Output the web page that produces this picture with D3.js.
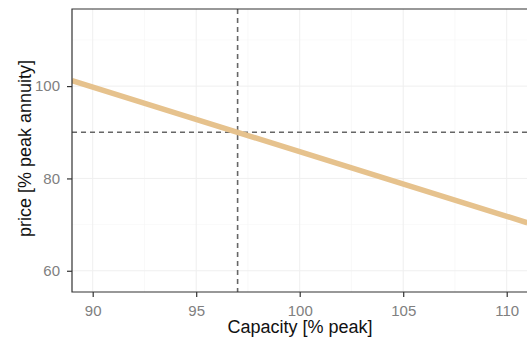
<!DOCTYPE html>
<html>
<head>
<meta charset="utf-8">
<script src="https://cdn.jsdelivr.net/npm/d3@7"></script>
<style>
  body { margin: 0; background: #fff; }
  svg { display: block; font-family: "Liberation Sans", Arial, sans-serif; }
</style>
</head>
<body>
<div id="chart"></div>
<script>
const capacity = [89, 97, 111];
const price = [101.2, 90, 70.4];
const refCapacity = 97;
const refPrice = 90;
const xTicks = [90, 95, 100, 105, 110];
const yTicks = [60, 80, 100];
const xMinor = [92.5, 97.5, 102.5, 107.5];
const yMinor = [70, 90, 110];

const width = 527;
const height = 342;
const margin = { top: 9, right: 0, bottom: 50, left: 72 };

const svg = d3.select("#chart")
    .append("svg")
    .attr("width", width)
    .attr("height", height);

const x = d3.scaleLinear()
    .domain([89.0, 110.98])
    .range([margin.left, width - margin.right]);

const y = d3.scaleLinear()
    .domain([55.4, 116.7])
    .range([height - margin.bottom, margin.top]);

svg.append("defs").append("clipPath")
    .attr("id", "panel")
    .append("rect")
    .attr("x", margin.left)
    .attr("y", margin.top)
    .attr("width", width - margin.left - margin.right)
    .attr("height", height - margin.top - margin.bottom);

// grid
const grid = svg.append("g");
grid.selectAll(".xminor").data(xMinor).join("line")
    .attr("x1", d => x(d)).attr("x2", d => x(d))
    .attr("y1", margin.top).attr("y2", height - margin.bottom)
    .attr("stroke", "#f5f5f5").attr("stroke-width", 0.6);
grid.selectAll(".yminor").data(yMinor).join("line")
    .attr("y1", d => y(d)).attr("y2", d => y(d))
    .attr("x1", margin.left).attr("x2", width)
    .attr("stroke", "#f5f5f5").attr("stroke-width", 0.6);
grid.selectAll(".xmajor").data(xTicks).join("line")
    .attr("x1", d => x(d)).attr("x2", d => x(d))
    .attr("y1", margin.top).attr("y2", height - margin.bottom)
    .attr("stroke", "#efefef").attr("stroke-width", 1);
grid.selectAll(".ymajor").data(yTicks).join("line")
    .attr("y1", d => y(d)).attr("y2", d => y(d))
    .attr("x1", margin.left).attr("x2", width)
    .attr("stroke", "#efefef").attr("stroke-width", 1);

// reference lines
svg.append("line")
    .attr("x1", x(refCapacity)).attr("x2", x(refCapacity))
    .attr("y1", margin.top).attr("y2", height - margin.bottom)
    .attr("stroke", "#666").attr("stroke-width", 1.6)
    .attr("stroke-dasharray", "5,4");
svg.append("line")
    .attr("y1", y(refPrice)).attr("y2", y(refPrice))
    .attr("x1", margin.left).attr("x2", width)
    .attr("stroke", "#666").attr("stroke-width", 1.6)
    .attr("stroke-dasharray", "5,4");

// curve
const line = d3.line()
    .x((d, i) => x(capacity[i]))
    .y(d => y(d));

svg.append("path")
    .datum(price)
    .attr("clip-path", "url(#panel)")
    .attr("d", line)
    .attr("fill", "none")
    .attr("stroke", "#e6c28d")
    .attr("stroke-width", 5.5);

// panel border
svg.append("path")
    .attr("d", `M${width},${margin.top}H${margin.left}V${height - margin.bottom}H${width}`)
    .attr("fill", "none")
    .attr("stroke", "#333")
    .attr("stroke-width", 1.2);

// axes
const xAxis = svg.append("g")
    .attr("transform", `translate(0,${height - margin.bottom})`)
    .call(d3.axisBottom(x).tickValues(xTicks).tickSize(5).tickPadding(8));
const yAxis = svg.append("g")
    .attr("transform", `translate(${margin.left},0)`)
    .call(d3.axisLeft(y).tickValues(yTicks).tickSize(5).tickPadding(7));

[xAxis, yAxis].forEach(a => {
    a.select(".domain").remove();
    a.selectAll(".tick line").attr("stroke", "#333").attr("stroke-width", 1.2);
    a.selectAll(".tick text")
        .attr("fill", "#808080")
        .style("font-size", "15px")
        .style("font-family", "Liberation Sans, Arial, sans-serif");
});

svg.append("text")
    .attr("x", 300)
    .attr("y", 333)
    .attr("text-anchor", "middle")
    .attr("fill", "#111")
    .style("font-size", "18px")
    .text("Capacity [% peak]");

svg.append("text")
    .attr("transform", `translate(31,148.5) rotate(-90)`)
    .attr("text-anchor", "middle")
    .attr("fill", "#111")
    .style("font-size", "18px")
    .text("price [% peak annuity]");
</script>
</body>
</html>
